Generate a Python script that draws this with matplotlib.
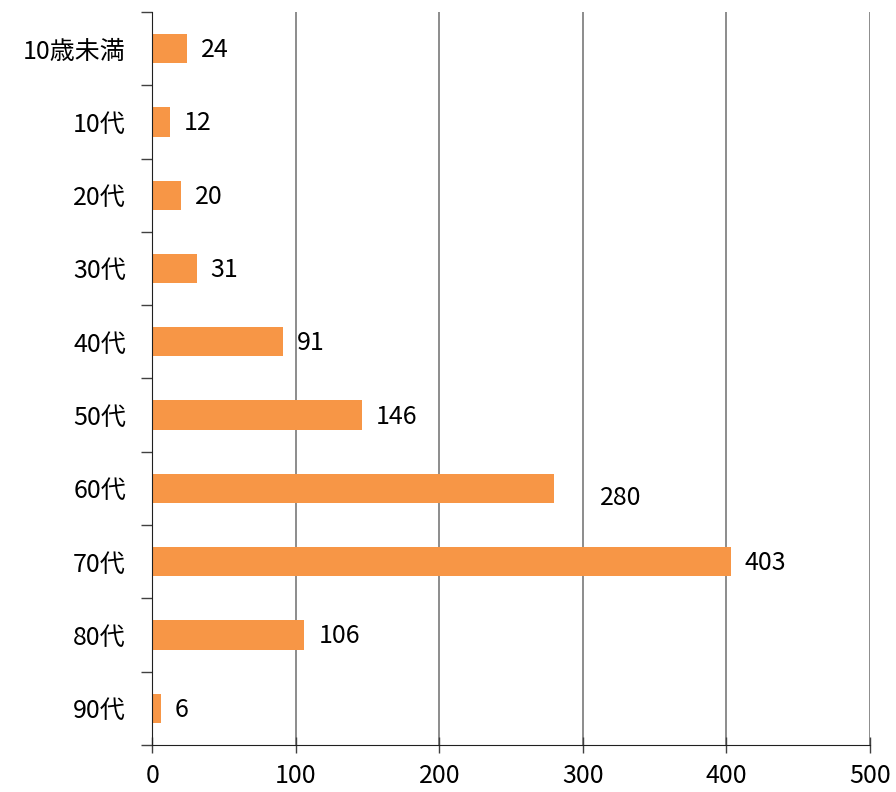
import matplotlib
matplotlib.use("Agg")
import matplotlib.pyplot as plt

categories = ["10歳未満", "10代", "20代", "30代", "40代", "50代", "60代", "70代", "80代", "90代"]
values = [24, 12, 20, 31, 91, 146, 280, 403, 106, 6]
xticks = [0, 100, 200, 300, 400, 500]

plt.rcParams['font.family'] = ['Noto Sans CJK JP', 'DejaVu Sans']
FS = 18

fig = plt.figure(figsize=(8.96, 7.92), dpi=100)
ax = fig.add_axes([0.170, 0.0593, 0.801, 0.9257])

n = len(categories)
ypos = list(range(n))
ax.barh(ypos, values, height=0.40, color="#F79646", zorder=3)
ax.set_ylim(n - 0.5, -0.5)
ax.set_xlim(0, 500)

ax.set_xticks(xticks)
ax.set_xticklabels([str(t) for t in xticks], fontsize=FS)
ax.set_yticks(ypos)
ax.set_yticklabels(categories, fontsize=FS)
ax.tick_params(axis='y', length=0, pad=19)
ax.set_yticks([i + 0.5 for i in range(-1, n)], minor=True)
ax.tick_params(axis='y', which='minor', length=8, width=1, color='#404040', direction='out')
ax.tick_params(axis='x', length=12, width=1, color='#404040', direction='inout', pad=7)

ax.grid(axis='x', color='#6e6e6e', linewidth=1.1, zorder=0)
for s in ['top', 'right']:
    ax.spines[s].set_visible(False)
ax.spines['left'].set_color('#202020')
ax.spines['bottom'].set_color('#202020')
ax.spines['left'].set_zorder(4)

for i, v in enumerate(values):
    if v == 280:
        ax.annotate(str(v), (v, i), xytext=(33, -7), textcoords='offset points',
                    ha='left', va='center', fontsize=FS)
    else:
        ax.annotate(str(v), (v, i), xytext=(10, -1), textcoords='offset points',
                    ha='left', va='center', fontsize=FS)

fig.savefig("out.png", dpi=100)
